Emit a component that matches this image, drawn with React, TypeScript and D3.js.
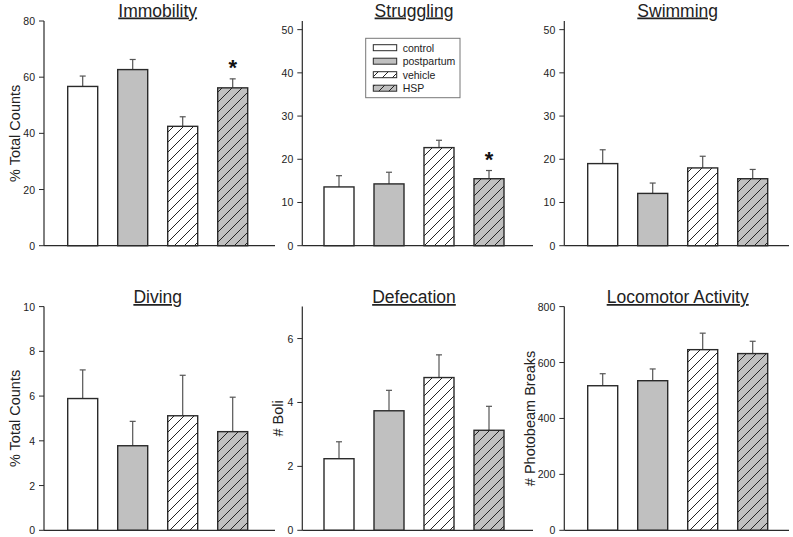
import React from "react";
import * as d3 from "d3";

const groups = ["control", "postpartum", "vehicle", "HSP"];

const immobilityMean = [56.7, 62.7, 42.5, 56.2];
const immobilitySem = [3.7, 3.6, 3.4, 3.2];
const strugglingMean = [13.6, 14.3, 22.7, 15.5];
const strugglingSem = [2.6, 2.7, 1.7, 1.9];
const swimmingMean = [19.0, 12.1, 18.0, 15.5];
const swimmingSem = [3.2, 2.4, 2.7, 2.15];
const divingMean = [5.89, 3.78, 5.12, 4.41];
const divingSem = [1.28, 1.09, 1.81, 1.54];
const defecationMean = [2.24, 3.74, 4.78, 3.13];
const defecationSem = [0.53, 0.64, 0.71, 0.75];
const locomotorMean = [517, 535, 646, 632];
const locomotorSem = [43, 42, 59, 44];

const immobilitySig = [false, false, false, true];
const strugglingSig = [false, false, false, true];
const noSig = [false, false, false, false];

const ticks80 = [0, 20, 40, 60, 80];
const ticks50 = [0, 10, 20, 30, 40, 50];
const ticks10 = [0, 2, 4, 6, 8, 10];
const ticks6 = [0, 2, 4, 6];
const ticks800 = [0, 200, 400, 600, 800];

const titles = ["Immobility", "Struggling", "Swimming", "Diving", "Defecation", "Locomotor Activity"];
const yLabels = ["% Total Counts", "", "", "% Total Counts", "# Boli", "# Photobeam Breaks"];
const yMaxes = [80, 52, 52, 10, 7, 800];

const panels = [
  { mean: immobilityMean, sem: immobilitySem, ticks: ticks80, sig: immobilitySig },
  { mean: strugglingMean, sem: strugglingSem, ticks: ticks50, sig: strugglingSig },
  { mean: swimmingMean, sem: swimmingSem, ticks: ticks50, sig: noSig },
  { mean: divingMean, sem: divingSem, ticks: ticks10, sig: noSig },
  { mean: defecationMean, sem: defecationSem, ticks: ticks6, sig: noSig },
  { mean: locomotorMean, sem: locomotorSem, ticks: ticks800, sig: noSig },
];

// layout
const axisX = [44, 302.3, 564.3, 44, 302.3, 564.3];
const endX = [275, 533, 789, 275, 533, 789];
const bandStart = [57.7, 314, 577.7, 57.7, 314, 577.7];
const plotTop = [21, 21, 21, 306.6, 306.6, 306.6];
const plotBottom = [245.7, 245.7, 245.7, 530.3, 530.3, 530.3];
const titleY = [16.5, 16.5, 16.5, 303, 303, 303];
const labelOffset = [29, 0, 0, 29, 24, 34];

const FONT = "'Liberation Sans', Arial, Helvetica, sans-serif";
const GRAY = "#c0c0c0";
const INK = "#2a2a2a";

function fillFor(i: number) {
  if (i === 0) return "#ffffff";
  if (i === 1) return GRAY;
  if (i === 2) return "url(#hatchWhite)";
  return "url(#hatchGray)";
}

function Panel({ idx }: { idx: number }) {
  const p = panels[idx];
  const x = d3
    .scaleBand<string>()
    .domain(groups)
    .range([bandStart[idx], bandStart[idx] + 200])
    .paddingInner(0.4)
    .paddingOuter(0.2);
  const y = d3.scaleLinear().domain([0, yMaxes[idx]]).range([plotBottom[idx], plotTop[idx]]);
  const bw = x.bandwidth();
  const centerX = (bandStart[idx] + bandStart[idx] + 200) / 2;
  const plotMid = (plotTop[idx] + plotBottom[idx]) / 2;
  return (
    <g>
      {groups.map((g, i) => {
        const x0 = x(g)!;
        const yt = y(p.mean[i]);
        const ye = y(p.mean[i] + p.sem[i]);
        const cx = x0 + bw / 2;
        return (
          <g key={g}>
            <line x1={cx} x2={cx} y1={yt} y2={ye} stroke="#555" strokeWidth={1.2} />
            <line x1={cx - 3} x2={cx + 3} y1={ye} y2={ye} stroke="#555" strokeWidth={1.2} />
            <rect
              x={x0}
              y={yt}
              width={bw}
              height={plotBottom[idx] - yt}
              fill={fillFor(i)}
              stroke={INK}
              strokeWidth={1.4}
            />
            {p.sig[i] && (
              <text
                x={cx}
                y={ye - 11}
                fontFamily={FONT}
                fontWeight="bold"
                fontSize={22}
                textAnchor="middle"
                dominantBaseline="central"
                fill="#111"
              >
                *
              </text>
            )}
          </g>
        );
      })}
      <line x1={axisX[idx]} x2={axisX[idx]} y1={plotTop[idx]} y2={plotBottom[idx]} stroke={INK} strokeWidth={1.2} />
      <line x1={axisX[idx]} x2={endX[idx]} y1={plotBottom[idx]} y2={plotBottom[idx]} stroke={INK} strokeWidth={1.2} />
      {p.ticks.map((t) => (
        <g key={t}>
          <line x1={axisX[idx] - 5} x2={axisX[idx]} y1={y(t)} y2={y(t)} stroke={INK} strokeWidth={1} />
          <text
            x={axisX[idx] - 9}
            y={y(t)}
            fontFamily={FONT}
            fontSize={10.5}
            textAnchor="end"
            dominantBaseline="central"
            fill="#222"
          >
            {t}
          </text>
        </g>
      ))}
      <text
        x={centerX}
        y={titleY[idx]}
        fontFamily={FONT}
        fontSize={17.5}
        textAnchor="middle"
        textDecoration="underline"
        style={{ textDecoration: "underline" }}
        fill="#222"
      >
        {titles[idx]}
      </text>
      {yLabels[idx] && (
        <text
          transform={`translate(${axisX[idx] - labelOffset[idx]},${plotMid}) rotate(-90)`}
          fontFamily={FONT}
          fontSize={14.5}
          textAnchor="middle"
          dominantBaseline="central"
          fill="#222"
        >
          {yLabels[idx]}
        </text>
      )}
    </g>
  );
}

function Legend() {
  const lx = 365.7;
  const ly = 38.3;
  return (
    <g>
      <rect x={lx} y={ly} width={94.3} height={59.4} fill="#fff" stroke="#777" strokeWidth={1} />
      {groups.map((g, i) => {
        const cy = 47.7 + i * 13.5;
        return (
          <g key={g}>
            <rect x={373.3} y={cy - 3} width={23.4} height={6} fill={fillFor(i)} stroke={INK} strokeWidth={1} />
            <text x={402.7} y={cy} fontFamily={FONT} fontSize={10.5} dominantBaseline="central" fill="#222">
              {g}
            </text>
          </g>
        );
      })}
    </g>
  );
}

export default function App() {
  return (
    <svg
      width={793}
      height={537}
      style={{ position: "absolute", left: 0, top: 0, background: "#fff" }}
    >
      <defs>
        <pattern id="hatchWhite" patternUnits="userSpaceOnUse" width={10} height={10}>
          <rect width={10} height={10} fill="#fff" />
          <path d="M0,10 L10,0 M-2,2 L2,-2 M8,12 L12,8" stroke="#222" strokeWidth={1} />
        </pattern>
        <pattern id="hatchGray" patternUnits="userSpaceOnUse" width={10} height={10}>
          <rect width={10} height={10} fill={GRAY} />
          <path d="M0,10 L10,0 M-2,2 L2,-2 M8,12 L12,8" stroke="#222" strokeWidth={1} />
        </pattern>
      </defs>
      {panels.map((_, i) => (
        <Panel key={i} idx={i} />
      ))}
      <Legend />
    </svg>
  );
}
